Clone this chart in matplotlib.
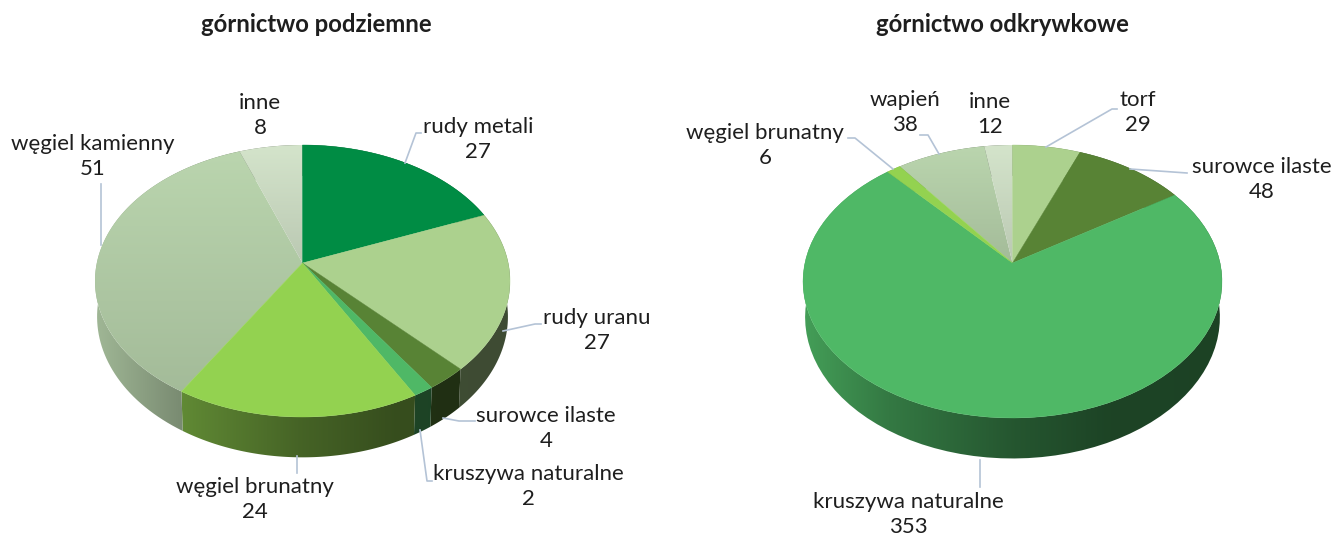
import numpy as np
import matplotlib.pyplot as plt
from matplotlib.colors import to_rgb
from matplotlib.patches import Polygon

plt.rcParams["font.family"] = ["Lato", "DejaVu Sans"]

COL_METALE = "#008C44"
COL_URAN = "#ACD18E"
COL_ILASTE = "#588335"
COL_KRUSZYWA = "#4FB866"
COL_BRUNATNY = "#93D250"
COL_KAMIENNY = "#BAD5AE"
COL_INNE = "#D4E4CB"

# gornictwo podziemne
under_names = ["rudy metali", "rudy uranu", "surowce ilaste", "kruszywa naturalne",
               "węgiel brunatny", "węgiel kamienny", "inne"]
under_values = [27, 27, 4, 2, 24, 51, 8]
under_colors = [COL_METALE, COL_URAN, COL_ILASTE, COL_KRUSZYWA, COL_BRUNATNY, COL_KAMIENNY, COL_INNE]
under_text_pos = [(478, 127), (597, 318), (546, 416), (528, 474), (255, 487), (93, 144), (260, 103)]
under_leaders = [
    [(405, 163), (416, 133), (421, 133)],
    [(503, 331), (535, 324), (541, 324)],
    [(443, 418), (459, 421), (475, 421)],
    [(420, 430), (427, 481), (432, 481)],
    [(297, 456), (297, 473)],
    [(101, 245), (101, 184)],
]

# gornictwo odkrywkowe
open_names = ["torf", "surowce ilaste", "kruszywa naturalne", "węgiel brunatny", "wapień", "inne"]
open_values = [29, 48, 353, 6, 38, 12]
open_colors = [COL_URAN, COL_ILASTE, COL_KRUSZYWA, COL_BRUNATNY, COL_KAMIENNY, COL_INNE]
open_text_pos = [(1138, 100), (1262, 167), (908, 502), (765, 133), (905, 100), (990, 102)]
open_leaders = [
    [(1046, 147), (1112, 109), (1117, 109)],
    [(1130, 169), (1187, 173)],
    [(980, 460), (980, 487)],
    [(893, 169), (855, 138), (848, 138)],
    [(939, 154), (928, 135), (920, 135)],
]

GRADIENT_FACES = {COL_KAMIENNY, COL_INNE}
LEADER = "#B4C3D6"
TEXT = "#1E1E1E"


def project(theta, cx, cy, rx, up, down, drop=0.0, shrink=1.0):
    # theta clockwise from the top, flat disc seen in perspective
    k = (down - up) / (down + up)
    b = up * (1 + k)
    a = rx * np.sqrt(1 - k ** 2)
    w = 1 + k * np.cos(theta)
    x = cx + shrink * a * np.sin(theta) / w
    y = cy - b * np.cos(theta) / w + drop / w
    return x, y


def wall_shade(u):
    return np.interp(u, [-1.0, -0.6, 0.0, 0.45, 1.0], [0.86, 0.66, 0.47, 0.37, 0.36])


def gradient_fill(ax, pts, colors, extent):
    patch = Polygon(pts, closed=True, facecolor="none", edgecolor="none", transform=ax.transData)
    ax.add_patch(patch)
    im = ax.imshow(colors, extent=extent, aspect="auto", interpolation="bilinear", zorder=2)
    im.set_clip_path(patch)


def draw_pie(ax, values, colors, cx, cy, rx, up, down):
    edges = np.radians(np.r_[0, np.cumsum(values)] / sum(values) * 360)
    top_y = cy - up
    bot_y = cy + down

    # side walls first, the top faces cover their back part
    us = np.linspace(-1, 1, 200)
    for i, col in enumerate(colors):
        th = np.linspace(edges[i], edges[i + 1], 80)
        x0, y0 = project(th, cx, cy, rx, up, down)
        x1, y1 = project(th, cx, cy, rx, up, down, drop=35, shrink=0.99)
        pts = np.r_[np.c_[x0, y0], np.c_[x1, y1][::-1]]
        shade = wall_shade(us)[None, :, None] * np.array(to_rgb(col))[None, None, :]
        gradient_fill(ax, pts, shade, (cx - rx, cx + rx, bot_y + 50, top_y))

    for i, col in enumerate(colors):
        th = np.linspace(edges[i], edges[i + 1], 80)
        x0, y0 = project(th, cx, cy, rx, up, down)
        pts = np.r_[[(cx, cy)], np.c_[x0, y0]]
        if col in GRADIENT_FACES:
            # each pale slice darkens downwards over its own height
            ramp = np.linspace(1.0, 0.88, 100)[:, None, None] * np.array(to_rgb(col))[None, None, :]
            im_extent = (pts[:, 0].min(), pts[:, 0].max(), pts[:, 1].max(), pts[:, 1].min())
            gradient_fill(ax, pts, ramp, im_extent)
        else:
            ax.add_patch(Polygon(pts, closed=True, facecolor=col, edgecolor=col, lw=0.3, zorder=3))


def draw_labels(ax, names, values, positions, leaders):
    for name, val, (x, y) in zip(names, values, positions):
        ax.text(x, y, name, ha="center", va="center", fontsize=16, color=TEXT, zorder=6)
        ax.text(x, y + 25, str(val), ha="center", va="center", fontsize=16, color=TEXT, zorder=6)
    for line in leaders:
        xs, ys = zip(*line)
        ax.plot(xs, ys, color=LEADER, lw=1.2, zorder=5)


fig = plt.figure(figsize=(13.36, 5.37), dpi=100)
ax = fig.add_axes([0, 0, 1, 1])

draw_pie(ax, under_values, under_colors, 302.5, 263, 207.5, 118, 154)
draw_pie(ax, open_values, open_colors, 1012.5, 263, 209.5, 118, 155)
draw_labels(ax, under_names, under_values, under_text_pos, under_leaders)
draw_labels(ax, open_names, open_values, open_text_pos, open_leaders)

ax.text(316, 25, "górnictwo podziemne", ha="center", va="center", fontsize=17.2, fontweight="bold", color=TEXT)
ax.text(1002, 25, "górnictwo odkrywkowe", ha="center", va="center", fontsize=17.2, fontweight="bold", color=TEXT)

ax.set_xlim(0, 1336)
ax.set_ylim(537, 0)
ax.axis("off")

fig.savefig("out.png", dpi=100)
